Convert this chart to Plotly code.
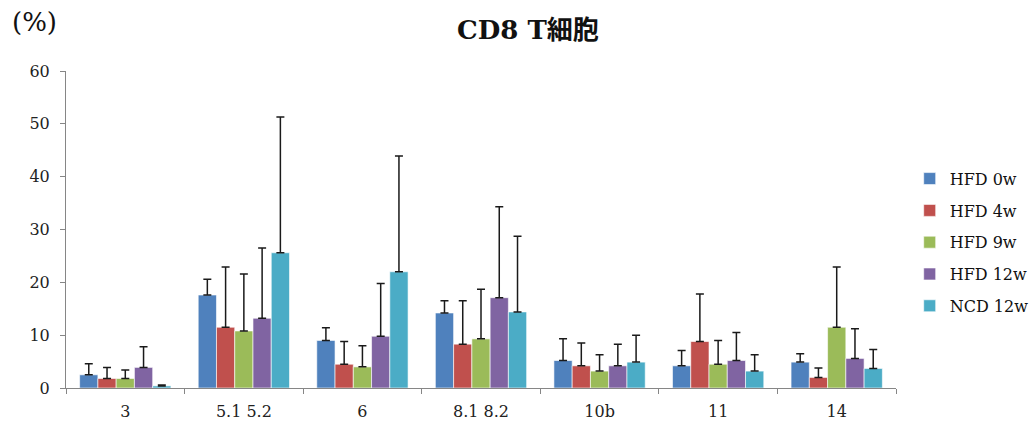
import plotly.graph_objects as go

categories = ["3", "5.1 5.2", "6", "8.1 8.2", "10b", "11", "14"]
series_names = ["HFD 0w", "HFD 4w", "HFD 9w", "HFD 12w", "NCD 12w"]

hfd_0w = [2.5, 17.6, 9.0, 14.2, 5.2, 4.2, 4.9]
hfd_4w = [1.8, 11.5, 4.5, 8.3, 4.2, 8.8, 2.0]
hfd_9w = [1.8, 10.8, 4.0, 9.3, 3.2, 4.5, 11.5]
hfd_12w = [3.9, 13.2, 9.8, 17.1, 4.2, 5.2, 5.6]
ncd_12w = [0.4, 25.6, 22.0, 14.4, 4.9, 3.2, 3.7]

err_hfd_0w = [2.1, 3.0, 2.4, 2.3, 4.1, 2.9, 1.6]
err_hfd_4w = [2.1, 11.4, 4.3, 8.2, 4.3, 9.0, 1.8]
err_hfd_9w = [1.6, 10.8, 4.0, 9.4, 3.1, 4.5, 11.4]
err_hfd_12w = [3.9, 13.3, 10.0, 17.2, 4.1, 5.3, 5.6]
err_ncd_12w = [0.15, 25.7, 21.9, 14.3, 5.1, 3.1, 3.6]

values = [hfd_0w, hfd_4w, hfd_9w, hfd_12w, ncd_12w]
errors = [err_hfd_0w, err_hfd_4w, err_hfd_9w, err_hfd_12w, err_ncd_12w]
colors = ["#4F81BD", "#C0504D", "#9BBB59", "#8064A2", "#4BACC6"]

SERIF = "DejaVu Serif, Noto Sans CJK JP, serif"

fig = go.Figure()
for name, vals, errs, col in zip(series_names, values, errors, colors):
    fig.add_trace(go.Bar(
        x=categories,
        y=vals,
        name=name,
        legendgroup=name,
        marker=dict(color=col, line=dict(color="rgba(255,255,255,0.6)", width=1)),
        error_y=dict(
            type="data",
            array=errs,
            arrayminus=[0] * len(errs),
            symmetric=False,
            color="#1a1a1a",
            thickness=1.5,
            width=4,
        ),
    ))

fig.update_layout(
    width=1029,
    height=425,
    margin=dict(l=66, r=133, t=71, b=37, autoexpand=False),
    paper_bgcolor="white",
    plot_bgcolor="white",
    barmode="group",
    bargap=0.23,
    bargroupgap=0,
    font=dict(family=SERIF, size=16, color="#222"),
    title=dict(
        text="<b>CD8 T細胞</b>",
        x=0.513,
        xanchor="center",
        y=0.93,
        yanchor="middle",
        font=dict(family=SERIF, size=26, color="#111"),
    ),
    legend=dict(
        x=1.0165,
        xanchor="left",
        y=0.46,
        yanchor="middle",
        font=dict(family=SERIF, size=16, color="#111"),
        tracegroupgap=8,
        bgcolor="rgba(0,0,0,0)",
    ),
    showlegend=True,
    annotations=[dict(
        text="(%)",
        xref="paper", yref="paper",
        x=-0.068, y=1.155,
        xanchor="left", yanchor="middle",
        showarrow=False,
        font=dict(family=SERIF, size=26, color="#111"),
    )],
)

fig.update_yaxes(
    range=[0, 60],
    tickvals=[0, 10, 20, 30, 40, 50, 60],
    showgrid=False,
    zeroline=False,
    showline=True,
    linecolor="#868686",
    linewidth=1,
    ticks="outside",
    ticklen=5,
    tickcolor="#868686",
    ticklabelstandoff=7,
    automargin=False,
    tickfont=dict(family=SERIF, size=16, color="#222"),
)

fig.update_xaxes(
    showgrid=False,
    showline=True,
    linecolor="#868686",
    linewidth=1,
    ticks="outside",
    tickson="boundaries",
    ticklen=5,
    tickcolor="#868686",
    ticklabelstandoff=9,
    automargin=False,
    tickfont=dict(family=SERIF, size=16, color="#222"),
)

fig.write_html("out.html")
